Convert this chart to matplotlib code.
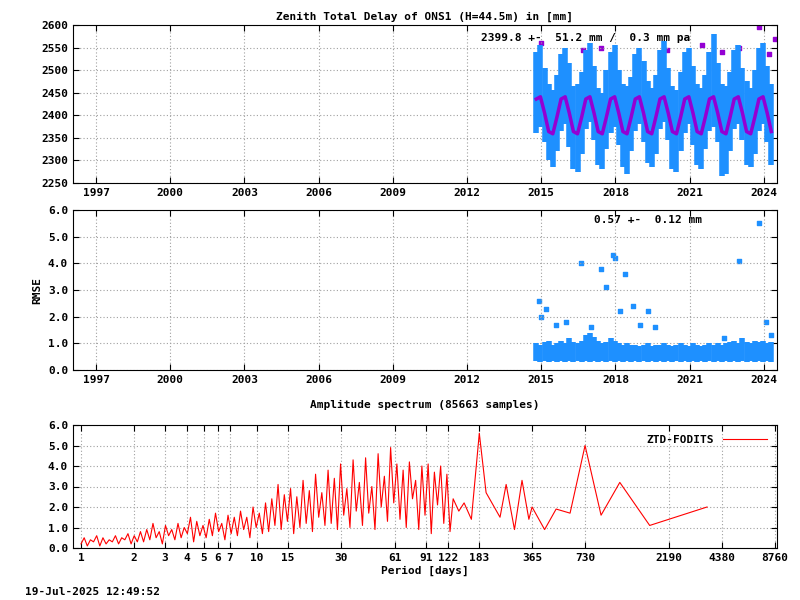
import numpy as np
import matplotlib
matplotlib.use("Agg")
import matplotlib.pyplot as plt

plt.rcParams["font.family"] = "DejaVu Sans Mono"
plt.rcParams["font.size"] = 8
plt.rcParams["font.weight"] = "bold"

# ---- top panel data (bi-monthly epochs) ----
t0 = 2014.8
ztd_fit = [2436, 2441, 2405, 2364, 2359, 2396,
           2436, 2441, 2405, 2364, 2359, 2396,
           2436, 2441, 2405, 2364, 2359, 2396,
           2436, 2441, 2405, 2364, 2359, 2396,
           2436, 2441, 2405, 2364, 2359, 2396,
           2436, 2441, 2405, 2364, 2359, 2396,
           2436, 2441, 2405, 2364, 2359, 2396,
           2436, 2441, 2405, 2364, 2359, 2396,
           2436, 2441, 2405, 2364, 2359, 2396,
           2436, 2441, 2405, 2364]
ztd_hi = [2540, 2555, 2505, 2470, 2455, 2490,
          2535, 2550, 2515, 2465, 2470, 2495,
          2545, 2560, 2510, 2460, 2450, 2500,
          2540, 2555, 2500, 2470, 2465, 2485,
          2535, 2550, 2520, 2475, 2460, 2490,
          2545, 2565, 2505, 2465, 2455, 2495,
          2540, 2550, 2510, 2470, 2460, 2490,
          2540, 2580, 2515, 2470, 2465, 2495,
          2545, 2555, 2505, 2475, 2460, 2500,
          2550, 2560, 2510, 2470]
ztd_lo = [2360, 2375, 2340, 2300, 2285, 2320,
          2365, 2380, 2330, 2280, 2275, 2315,
          2370, 2385, 2345, 2290, 2280, 2325,
          2360, 2375, 2335, 2285, 2270, 2320,
          2365, 2380, 2340, 2295, 2285, 2315,
          2370, 2385, 2345, 2280, 2275, 2320,
          2360, 2380, 2335, 2290, 2280, 2325,
          2365, 2375, 2340, 2265, 2270, 2320,
          2370, 2380, 2345, 2290, 2285, 2315,
          2365, 2380, 2340, 2290]
out_t = [2015.0, 2016.7, 2017.4, 2018.9, 2020.1, 2021.5, 2022.3, 2023.0, 2023.8, 2024.2, 2024.45]
out_v = [2560, 2545, 2550, 2530, 2545, 2555, 2540, 2550, 2595, 2535, 2570]

# ---- RMSE panel ----
rmse_lo = [0.35, 0.30, 0.35, 0.30, 0.35, 0.30] * 9 + [0.35, 0.30, 0.35, 0.30]
rmse_hi = [1.00, 0.95, 1.05, 1.10, 0.95, 1.00,
           1.10, 1.00, 1.20, 1.05, 1.00, 1.10,
           1.30, 1.40, 1.25, 1.10, 1.00, 1.05,
           1.20, 1.10, 1.00, 0.95, 1.00, 0.95,
           0.95, 0.90, 0.95, 1.00, 0.90, 0.95,
           0.95, 1.00, 0.95, 0.90, 0.95, 1.00,
           0.95, 0.90, 1.00, 0.95, 0.90, 0.95,
           1.00, 0.95, 1.00, 0.95, 1.00, 1.05,
           1.10, 1.00, 1.20, 1.05, 1.00, 1.10,
           1.05, 1.10, 1.00, 1.05]
rmse_out_t = [2014.9, 2015.0, 2015.2, 2015.6, 2016.0, 2016.6, 2017.0, 2017.4, 2017.6, 2017.9, 2018.0, 2018.2,
              2018.4, 2018.7, 2019.0, 2019.3, 2019.6, 2022.4, 2023.0, 2023.8, 2024.1, 2024.3]
rmse_out_v = [2.6, 2.0, 2.3, 1.7, 1.8, 4.0, 1.6, 3.8, 3.1, 4.3, 4.2, 2.2,
              3.6, 2.4, 1.7, 2.2, 1.6, 1.2, 4.1, 5.5, 1.8, 1.3]

# ---- spectrum ----
spec_amp_dense = [0.2, 0.5, 0.1, 0.4, 0.3, 0.6, 0.1, 0.5, 0.2, 0.4,
                  0.3, 0.6, 0.2, 0.5, 0.4, 0.7, 0.2, 0.6, 0.3, 0.8,
                  0.3, 0.9, 0.4, 1.2, 0.5, 0.8, 0.2, 1.1, 0.6, 0.9,
                  0.4, 1.2, 0.5, 1.0, 0.7, 1.5, 0.3, 1.3, 0.6, 1.1,
                  0.5, 1.4, 0.6, 1.7, 0.8, 1.2, 0.4, 1.6, 0.7, 1.5,
                  0.6, 1.8, 0.9, 1.5, 0.5, 2.0, 1.0, 1.7, 0.7, 2.2,
                  0.8, 2.4, 1.1, 3.1, 0.9, 2.6, 1.3, 2.9, 0.7, 2.5,
                  1.0, 3.3, 1.2, 2.8, 0.8, 3.6, 1.5, 2.7, 1.1, 3.8,
                  1.2, 3.4, 0.9, 4.1, 1.6, 2.9, 1.0, 4.3, 1.8, 3.2,
                  1.1, 4.4, 1.7, 3.0, 0.9, 4.6, 2.0, 3.5, 1.3, 4.9,
                  2.2, 4.1, 1.4, 3.8, 1.0, 4.2, 2.4, 3.3, 0.9, 4.0,
                  1.6, 4.1, 0.7, 3.7, 2.1, 4.0, 1.2, 3.6, 0.8, 2.4]
spec_per_sparse = [140, 150, 165, 183, 200, 240, 260, 290, 320, 350, 365, 430, 500, 600, 730, 900, 1150, 1700, 3600]
spec_amp_sparse = [1.8, 2.2, 1.4, 5.6, 2.7, 1.5, 3.1, 0.9, 3.3, 1.4, 2.0, 0.9, 1.9, 1.7, 5.0, 1.6, 3.2, 1.1, 2.0]
per_ticks = [1, 2, 3, 4, 5, 6, 7, 10, 15, 30, 61, 91, 122, 183, 365, 730, 2190, 4380, 8760]
year_ticks = [1997, 2000, 2003, 2006, 2009, 2012, 2015, 2018, 2021, 2024]

fig = plt.figure(figsize=(8, 6), dpi=100)
W, H = 800, 600
def ax_px(l, t, r, b):
    return fig.add_axes([l / W, 1 - b / H, (r - l) / W, (b - t) / H])

blue = "#1e90ff"
purple = "#9400d3"
grid_kw = dict(color="#a0a0a0", linestyle=(0, (1, 2)), linewidth=0.8)

# top
ax1 = ax_px(73, 25, 777, 183)
t = t0 + np.arange(len(ztd_fit)) / 6.0
ax1.vlines(t, ztd_lo, ztd_hi, color=blue, linewidth=4)
ax1.plot(t, ztd_fit, color=purple, linewidth=2.5)
ax1.scatter(out_t, out_v, color=purple, marker="s", s=8)
ax1.set_xlim(1996.07, 2024.53)
ax1.set_ylim(2250, 2600)
ax1.set_yticks(range(2250, 2601, 50))
ax1.set_xticks(year_ticks)
ax1.grid(True, **grid_kw)
ax1.set_title("Zenith Total Delay of ONS1 (H=44.5m) in [mm]", fontsize=8, fontweight="bold", pad=4)
ax1.text(0.58, 0.9, "2399.8 +-  51.2 mm /  0.3 mm pa", transform=ax1.transAxes, fontsize=8)

# middle
ax2 = ax_px(73, 210, 777, 370)
ax2.vlines(t, rmse_lo, rmse_hi, color=blue, linewidth=4)
ax2.scatter(rmse_out_t, rmse_out_v, color=blue, marker="s", s=5)
ax2.set_xlim(1996.07, 2024.53)
ax2.set_ylim(0, 6)
ax2.set_yticks(np.arange(0, 6.1, 1.0))
ax2.set_yticklabels([f"{v:.1f}" for v in np.arange(0, 6.1, 1.0)])
ax2.set_xticks(year_ticks)
ax2.grid(True, **grid_kw)
ax2.set_ylabel("RMSE", fontsize=8, fontweight="bold")
ax2.text(0.74, 0.92, "0.57 +-  0.12 mm", transform=ax2.transAxes, fontsize=8)

# bottom
ax3 = ax_px(73, 425, 777, 548)
per_dense = np.geomspace(1.0, 130.0, len(spec_amp_dense))
per = np.concatenate([per_dense, spec_per_sparse])
amp = np.concatenate([spec_amp_dense, spec_amp_sparse])
ax3.plot(per, amp, color="red", linewidth=0.8, label="ZTD-FODITS")
ax3.set_xscale("log")
ax3.set_xlim(0.9, 8990)
ax3.set_ylim(0, 6)
ax3.set_xticks(per_ticks)
ax3.set_xticklabels([str(p) for p in per_ticks])
ax3.minorticks_off()
ax3.set_yticks(np.arange(0, 6.1, 1.0))
ax3.set_yticklabels([f"{v:.1f}" for v in np.arange(0, 6.1, 1.0)])
ax3.grid(True, **grid_kw)
ax3.set_title("Amplitude spectrum (85663 samples)", fontsize=8, fontweight="bold", pad=12)
ax3.set_xlabel("Period [days]", fontsize=8, fontweight="bold", labelpad=2)
leg = ax3.legend(loc="upper right", frameon=False, markerfirst=False, handlelength=4, fontsize=8)

for ax in (ax1, ax2, ax3):
    ax.tick_params(direction="in", top=True, right=True, labelsize=8, length=4)
    for lab in ax.get_xticklabels() + ax.get_yticklabels():
        lab.set_fontweight("bold")

fig.text(25 / W, 1 - 592 / H, "19-Jul-2025 12:49:52", fontsize=8, va="center")
fig.savefig("out.png", dpi=100)
